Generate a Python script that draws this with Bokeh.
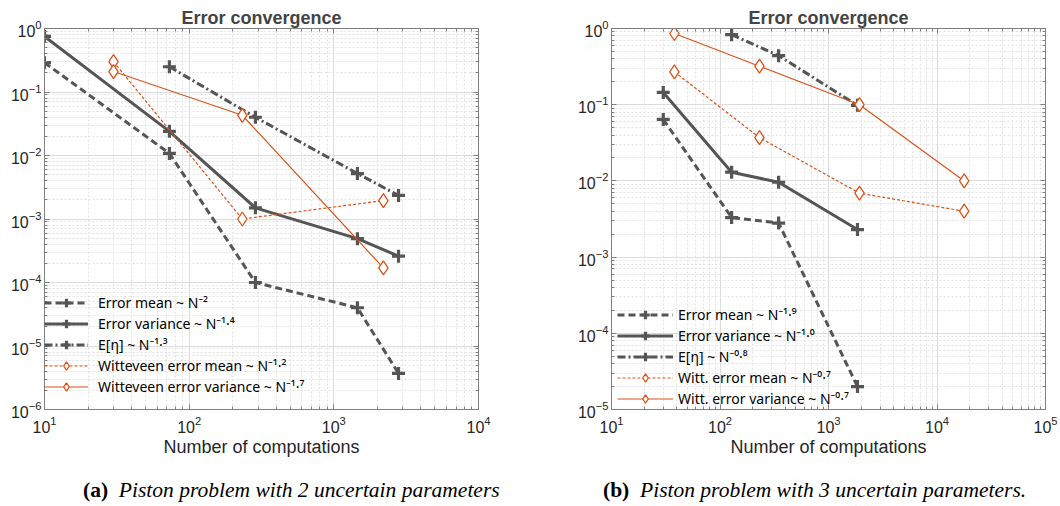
from bokeh.plotting import figure
from bokeh.layouts import row, column
from bokeh.models import FixedTicker, LogAxis, Div
from bokeh.embed import file_html
from bokeh.resources import INLINE

# ---------------- data: panel (a) ----------------
a_N = [10, 73, 287, 1456, 2800]
a_mean = [0.29, 0.0108, 1.0e-4, 4.0e-5, 3.7e-6]
a_var = [0.75, 0.024, 1.5e-3, 4.9e-4, 2.6e-4]
a_eta_N = [73, 287, 1456, 2800]
a_eta = [0.25, 0.040, 5.2e-3, 2.35e-3]
a_w_N = [30, 233, 2200]
a_wmean = [0.30, 1.0e-3, 1.95e-3]
a_wvar = [0.21, 0.043, 1.7e-4]
a_labels = ["Error mean ~ N⁻²", "Error variance ~ N⁻¹·⁴", "E[η] ~ N⁻¹·³",
            "Witteveen error mean ~ N⁻¹·²", "Witteveen error variance ~ N⁻¹·⁷"]

# ---------------- data: panel (b) ----------------
b_N = [30, 128, 347, 1850]
b_mean = [0.064, 3.3e-3, 2.8e-3, 2.0e-5]
b_var = [0.145, 0.013, 0.0096, 2.3e-3]
b_eta_N = [128, 347, 1850]
b_eta = [0.83, 0.44, 0.098]
b_w_N = [38, 231, 1930, 17800]
b_wmean = [0.27, 0.037, 0.0069, 0.004]
b_wvar = [0.86, 0.32, 0.10, 0.010]
b_labels = ["Error mean ~ N⁻¹·⁹", "Error variance ~ N⁻¹·⁰", "E[η] ~ N⁻⁰·⁸",
            "Witt. error mean ~ N⁻⁰·⁷", "Witt. error variance ~ N⁻⁰·⁷"]

a_xticks = [1e1, 1e2, 1e3, 1e4]
a_yticks = [1e-6, 1e-5, 1e-4, 1e-3, 1e-2, 1e-1, 1e0]
b_xticks = [1e1, 1e2, 1e3, 1e4, 1e5]
b_yticks = [1e-5, 1e-4, 1e-3, 1e-2, 1e-1, 1e0]

title_text = "Error convergence"
xlabel = "Number of computations"
cap_a = ("(a)", "Piston problem with 2 uncertain parameters")
cap_b = ("(b)", "Piston problem with 3 uncertain parameters.")

GRAY = "#555555"
ORANGE = "#D95319"
FONT = "Liberation Sans"
LEGFONT = "Noto Sans"


def minors(ticks):
    out = []
    for t in ticks[:-1]:
        out += [t * m for m in range(2, 10)]
    return out


def make_fig(width, xr, yr, xticks, yticks, ml, mr):
    p = figure(width=width, height=465, x_axis_type="log", y_axis_type="log",
               x_range=xr, y_range=yr, output_backend="svg", toolbar_location=None,
               min_border_left=ml, min_border_right=mr, min_border_top=28,
               min_border_bottom=56)
    p.title.text = title_text
    p.title.align = "center"
    p.title.text_font = FONT
    p.title.text_font_size = "18px"
    p.title.text_font_style = "bold"
    p.title.standoff = 2
    xt = FixedTicker(ticks=xticks, minor_ticks=minors(xticks))
    yt = FixedTicker(ticks=yticks, minor_ticks=minors(yticks))
    p.xaxis.ticker = xt
    p.yaxis.ticker = yt
    p.xaxis.axis_label = xlabel
    for ax in (p.xaxis[0], p.yaxis[0]):
        ax.axis_label_text_font = FONT
        ax.axis_label_text_font_size = "18px"
        ax.axis_label_text_font_style = "normal"
        ax.axis_label_text_color = "#262626"
        ax.axis_label_standoff = 1
        ax.major_label_text_font = FONT
        ax.major_label_text_font_size = "16px"
        ax.major_label_text_color = "#262626"
        ax.major_label_standoff = 3
        ax.major_tick_in = 5
        ax.major_tick_out = 0
        ax.minor_tick_in = 3
        ax.minor_tick_out = 0
        ax.axis_line_color = "#808080"
        ax.major_tick_line_color = "#808080"
        ax.minor_tick_line_color = "#808080"
    p.xaxis.major_label_standoff = 6
    for loc in ("right", "above"):
        ax = LogAxis(ticker=yt if loc == "right" else xt,
                     major_label_text_font_size="6px", major_label_text_alpha=0,
                     major_label_standoff=0,
                     major_tick_in=5, major_tick_out=0, minor_tick_in=3, minor_tick_out=0,
                     axis_line_color="#808080", major_tick_line_color="#808080",
                     minor_tick_line_color="#808080")
        p.add_layout(ax, loc)
    p.outline_line_color = "#808080"
    for g in (p.xgrid[0], p.ygrid[0]):
        g.grid_line_color = "#dcdcdc"
        g.grid_line_width = 1
        g.minor_grid_line_color = "#e2e2e2"
        g.minor_grid_line_dash = "2 2"
    return p


def add_series(p, labels, N, mean, var, eta_N, eta, w_N, wmean, wvar):
    p.line(N, mean, color=GRAY, line_width=3, line_dash="7 4", legend_label=labels[0])
    p.scatter(N, mean, marker="cross", size=13, line_color=GRAY, line_width=3.2, legend_label=labels[0])
    p.line(N, var, color=GRAY, line_width=3, legend_label=labels[1])
    p.scatter(N, var, marker="cross", size=13, line_color=GRAY, line_width=3.2, legend_label=labels[1])
    p.line(eta_N, eta, color=GRAY, line_width=3, line_dash="8 3 2 3", legend_label=labels[2])
    p.scatter(eta_N, eta, marker="cross", size=13, line_color=GRAY, line_width=3.2, legend_label=labels[2])
    p.line(w_N, wmean, color=ORANGE, line_width=1.2, line_dash="3 2", legend_label=labels[3])
    p.scatter(w_N, wmean, marker="diamond", size=14, line_color=ORANGE, fill_color="white",
              line_width=1.3, legend_label=labels[3])
    p.line(w_N, wvar, color=ORANGE, line_width=1.2, legend_label=labels[4])
    p.scatter(w_N, wvar, marker="diamond", size=14, line_color=ORANGE, fill_color="white",
              line_width=1.3, legend_label=labels[4])


def style_legend(p, loc, glyph_w, standoff):
    lg = p.legend[0]
    lg.location = loc
    lg.background_fill_alpha = 0
    lg.border_line_alpha = 0
    lg.label_text_font = LEGFONT
    lg.label_text_font_size = "14px"
    lg.label_text_color = "#000000"
    lg.glyph_width = glyph_w
    lg.glyph_height = 21
    lg.label_height = 21
    lg.spacing = 0
    lg.padding = 0
    lg.margin = 0
    lg.label_standoff = standoff


def caption(parts, width, left):
    html = ('<div style="margin-left:%dpx; margin-top:5px; font-family:\'Liberation Serif\'; '
            'font-size:21.5px; color:#000; white-space:nowrap;"><b>%s</b>&nbsp; <i>%s</i></div>'
            % (left, parts[0], parts[1]))
    return Div(text=html, width=width, height=40)


p1 = make_fig(548, (10, 1e4), (1e-6, 1e0), a_xticks, a_yticks, 44, 70)
add_series(p1, a_labels, a_N, a_mean, a_var, a_eta_N, a_eta, a_w_N, a_wmean, a_wvar)
style_legend(p1, (0, 12), 44, 10)

p2 = make_fig(512, (10, 1e5), (1e-5, 1e0), b_xticks, b_yticks, 63, 15)
add_series(p2, b_labels, b_N, b_mean, b_var, b_eta_N, b_eta, b_w_N, b_wmean, b_wvar)
style_legend(p2, (6, 0), 56, 5)

d1 = caption(cap_a, 548, 78)
d2 = caption(cap_b, 512, 40)

layout = column(row(p1, p2), row(d1, d2))
open("out.html", "w").write(file_html(layout, INLINE))
